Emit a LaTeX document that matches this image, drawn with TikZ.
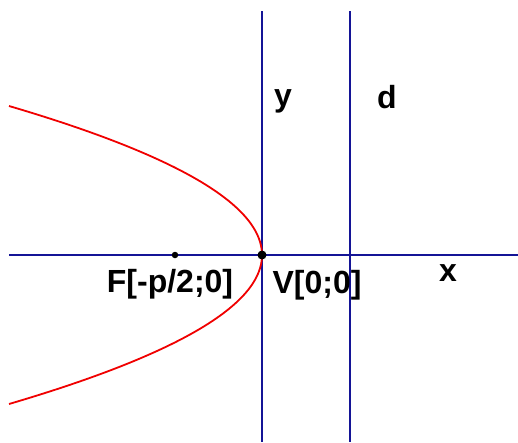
\documentclass[tikz,border=0pt]{standalone}
\usepackage{fontspec}
\setmainfont{Liberation Sans}
\definecolor{axisblue}{RGB}{20,20,150}
\definecolor{curvered}{RGB}{240,0,0}
\begin{document}
\begin{tikzpicture}[x=1pt,y=-1pt,
  axis/.style={draw=axisblue,line width=1.8pt},
  curve/.style={draw=curvered,line width=1.8pt},
  lbl/.style={font=\fontsize{32}{32}\selectfont\bfseries,inner sep=0pt,anchor=base},
  dotpt/.style={circle,fill=black,inner sep=0pt}]
\useasboundingbox (0,0) rectangle (518,442);
% axes
\coordinate (xl) at (9,255);
\coordinate (xr) at (518,255);
\coordinate (yt) at (262,11);
\coordinate (yb) at (262,442);
\coordinate (dt) at (350,11);
\coordinate (db) at (350,442);
\draw[axis] (xl) -- (xr);
\draw[axis] (yt) -- (yb);
\draw[axis] (dt) -- (db);
% parabola
\draw[curve] plot[domain=-149:149,samples=121,smooth] ({262-253*(\x/149)^2},{255+\x});
% points
\node[dotpt,minimum size=6.5pt] (F) at (175,255) {};
\node[dotpt,minimum size=9pt] (V) at (262,255) {};
% labels
\node[lbl] (Flbl) at (170,292) {F[-p/2;0]};
\node[lbl] (Vlbl) at (317,293) {V[0;0]};
\node[lbl] (ylbl) at (283,106) {y};
\node[lbl] (dlbl) at (387,108) {d};
\node[lbl] (xlbl) at (448,281) {x};
\end{tikzpicture}
\end{document}
